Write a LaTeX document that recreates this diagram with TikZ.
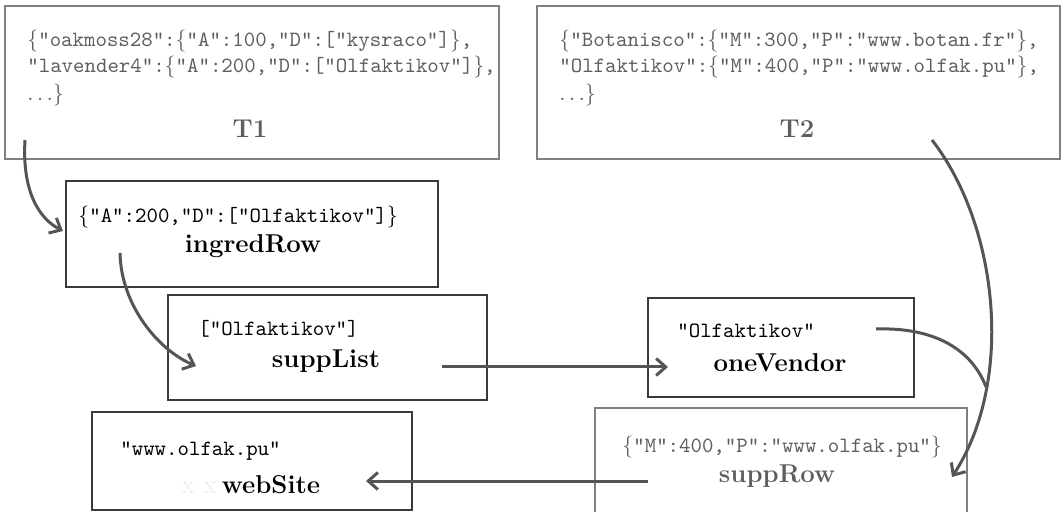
\documentclass[tikz,border=0pt]{standalone}
\usetikzlibrary{arrows.meta,fit}
\definecolor{linkc}{HTML}{555555}
\definecolor{boxdark}{HTML}{3A3A3A}
\definecolor{boxlight}{HTML}{808080}
\definecolor{txtgray}{HTML}{5E5E5E}
\newcommand{\jcode}{\fontsize{10.9}{12}\selectfont\ttfamily}
\newcommand{\jname}{\fontsize{12.9}{15}\selectfont\bfseries}
\newcommand{\lbr}{$\{$}
\newcommand{\rbr}{$\}$}
\begin{document}
\begin{tikzpicture}[x=0.5pt,y=-0.5pt,
  darkbox/.style={draw=boxdark,line width=0.65pt,inner sep=0pt},
  lightbox/.style={draw=boxlight,line width=0.65pt,inner sep=0pt},
  jsontext/.style={anchor=base west,inner sep=0pt,font=\jcode},
  vartitle/.style={anchor=base,inner sep=0pt,font=\jname},
  flowarrow/.style={draw=linkc,line width=1.5pt,-{Straight Barb[length=4.8pt,width=8.5pt]}},
  flowjoin/.style={draw=linkc,line width=1.5pt}]
\useasboundingbox (0,0) rectangle (1064,512);
\clip (0,0) rectangle (1064,512);

% boxes
\node[lightbox, fit={(5,6) (499,159)}] (T1) {};
\node[lightbox, fit={(537,6) (1060,159)}] (T2) {};
\node[darkbox, fit={(66,181) (438,287)}] (ingredRow) {};
\node[darkbox, fit={(168,295) (487,400)}] (suppList) {};
\node[darkbox, fit={(648,298) (914,397)}] (oneVendor) {};
\node[lightbox, fit={(595,408) (967,530)}] (suppRow) {};
\node[darkbox, fit={(92,412) (412,510)}] (webSite) {};

% table T1
\node[jsontext,text=txtgray] (t1a) at (27,47) {\lbr"oakmoss28":\lbr"A":100,"D":["kysraco"]\rbr,};
\node[jsontext,text=txtgray] (t1b) at (27,73) {"lavender4":\lbr"A":200,"D":["Olfaktikov"]\rbr,};
\node[jsontext,text=txtgray] (t1c) at (27,101) {$\ldots$\rbr};
\node[vartitle,text=txtgray] (t1n) at (250,138) {T1};

% table T2
\node[jsontext,text=txtgray] (t2a) at (559,47) {\lbr"Botanisco":\lbr"M":300,"P":"www.botan.fr"\rbr,};
\node[jsontext,text=txtgray] (t2b) at (559,73) {"Olfaktikov":\lbr"M":400,"P":"www.olfak.pu"\rbr,};
\node[jsontext,text=txtgray] (t2c) at (559,101) {$\ldots$\rbr};
\node[vartitle,text=txtgray] (t2n) at (797,138) {T2};

% intermediate values
\node[jsontext] (ira) at (78,223) {\lbr"A":200,"D":["Olfaktikov"]\rbr};
\node[vartitle] (irn) at (253,253) {ingredRow};

\node[jsontext] (sla) at (198,336) {["Olfaktikov"]};
\node[vartitle] (sln) at (326,368) {suppList};

\node[jsontext] (ova) at (677,338) {"Olfaktikov"};
\node[vartitle] (ovn) at (780,372) {oneVendor};

\node[jsontext,text=txtgray] (sra) at (622,452) {\lbr"M":400,"P":"www.olfak.pu"\rbr};
\node[vartitle,text=txtgray] (srn) at (777,482) {suppRow};

\node[jsontext] (wsa) at (120,456) {"www.olfak.pu"};
\node[vartitle] (wsn) at (271,493) {webSite};
\node[anchor=base east,inner sep=0pt,font=\fontsize{12.9}{15}\selectfont,text=black!7] (wsx) at (217,493) {x x};

% connector end points
\coordinate (p1) at (25,140);  \coordinate (q1) at (63,231);
\coordinate (p2) at (120,253); \coordinate (q2) at (196,366);
\coordinate (p3) at (442,367); \coordinate (q3) at (668,367);
\coordinate (p4) at (932,140); \coordinate (q4) at (952,477);
\coordinate (p5) at (876,329); \coordinate (q5) at (986,387);
\coordinate (p6) at (648,481); \coordinate (q6) at (366,481);

% connectors
\draw[flowarrow] (p1) .. controls (22,190) and (38,218) .. (q1);
\draw[flowarrow] (p2) .. controls (121,305) and (158,350) .. (q2);
\draw[flowarrow] (p3) -- (q3);
\draw[flowarrow] (p4) .. controls (998,225) and (1015,380) .. (q4);
\draw[flowjoin] (p5) .. controls (935,327) and (972,350) .. (q5);
\draw[flowarrow] (p6) -- (q6);
\end{tikzpicture}
\end{document}
